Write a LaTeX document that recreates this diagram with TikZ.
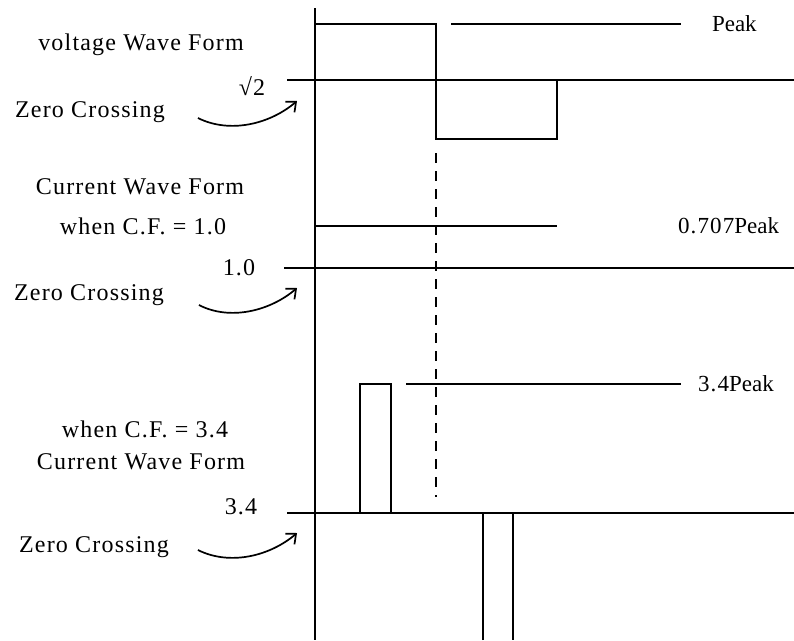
\documentclass[tikz,border=0pt]{standalone}
\usepackage{fontspec}
\setmainfont{Liberation Serif}
\newfontfamily\wavefont[LetterSpace=5]{Liberation Serif}
\usetikzlibrary{arrows.meta}

\begin{document}
\begin{tikzpicture}[x=1pt,y=-1pt,line width=2pt,
                    wlabel/.style={inner sep=0pt,font=\wavefont\fontsize{24}{26}\selectfont},
                    plabel/.style={inner sep=0pt,anchor=west,font=\fontsize{23}{26}\selectfont},
                    zcarrow/.style={line width=1.7pt,-{Straight Barb[length=8pt,width=14pt]}}
                    ]
    \useasboundingbox (0,0) rectangle (794,640);
    % axis
    \draw (315,8) -- (315,640);
    % voltage wave form
    \draw (287,80) -- (794,80);
    \draw (315,24) -- (436,24) -- (436,139) -- (557,139) -- (557,80);
    \draw (451,24) -- (681,24);
    \draw[dash pattern=on 10pt off 8pt] (436,153) -- (436,497);
    % current, C.F. = 1.0
    \draw (284,268) -- (794,268);
    \draw (315,226) -- (557,226);
    % current, C.F. = 3.4
    \draw (287,513) -- (794,513);
    \draw (315,513) -- (360,513) -- (360,384) -- (391,384) -- (391,513);
    \draw (406,384) -- (681,384);
    \draw (483,640) -- (483,513) -- (513,513) -- (513,640);

    \node[wlabel] (volt)  at (141,45)  {voltage Wave Form};
    \node[wlabel] (sqrt)  at (252,86)  {√2};
    \node[wlabel] (zc1)   at (90,112)  {Zero Crossing};
    \node[wlabel] (cur1)  at (140,187) {Current Wave Form};
    \node[wlabel] (cf1)   at (143,226) {when C.F. = 1.0};
    \node[wlabel] (one)   at (239,268) {1.0};
    \node[wlabel] (zc2)   at (89,295)  {Zero Crossing};
    \node[wlabel] (cf3)   at (145,429) {when C.F. = 3.4};
    \node[wlabel] (cur3)  at (141,462) {Current Wave Form};
    \node[wlabel] (three) at (241,507) {3.4};
    \node[wlabel] (zc3)   at (94,547)  {Zero Crossing};

    \node[plabel] (peak)   at (711,24)  {Peak};
    \node[plabel] (peaka)  at (677,226) {{\wavefont 0.707}Peak};
    \node[plabel] (peakb)  at (697,384) {{\wavefont 3.4}Peak};

    \coordinate (tip1) at (297,101);
    \coordinate (tip2) at (297,288);
    \coordinate (tip3) at (297,533);
    \draw[zcarrow] ([xshift=32pt,yshift=-6pt]zc1.east) .. controls (230,134) and (270,124) .. (tip1);
    \draw[zcarrow] ([xshift=34pt,yshift=-10pt]zc2.east) .. controls (230,321) and (270,311) .. (tip2);
    \draw[zcarrow] ([xshift=28pt,yshift=-3pt]zc3.east) .. controls (230,566) and (270,556) .. (tip3);
\end{tikzpicture}
\end{document}
